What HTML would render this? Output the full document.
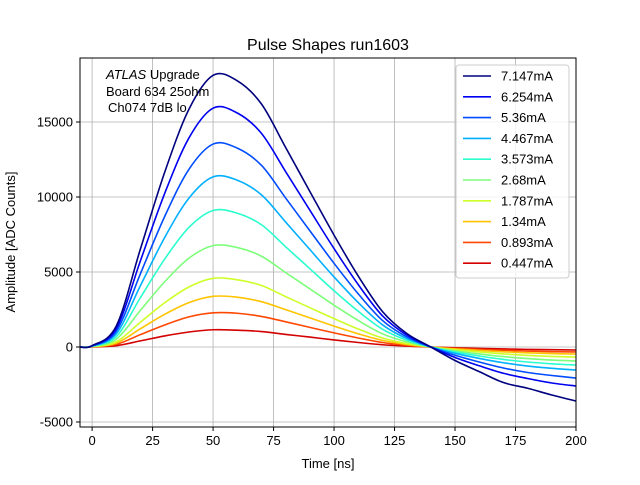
<!DOCTYPE html>
<html><head><meta charset="utf-8"><style>
body{margin:0;background:#fff}
svg text{font-family:"Liberation Sans",sans-serif;fill:#000}
</style></head><body>
<svg id="chart" width="640" height="480">
<rect width="640" height="480" fill="#fff"/>
<g id="grid"></g>
<g id="series"></g>
<rect x="80" y="58" width="496" height="369" fill="none" stroke="#000" stroke-width="1"/>
<g id="ticks"></g>
<text x="328" y="50" font-size="16" text-anchor="middle">Pulse Shapes run1603</text>
<text x="328" y="468" font-size="13" text-anchor="middle">Time [ns]</text>
<text transform="translate(15,242) rotate(-90)" font-size="13" text-anchor="middle">Amplitude [ADC Counts]</text>
<g font-size="13">
<text x="106" y="79"><tspan font-style="italic">ATLAS</tspan> Upgrade</text>
<text x="106" y="96"> Board 634 25ohm</text>
<text x="108" y="112">Ch074 7dB lo</text>
</g>
<g id="legend"></g>
</svg>
<script>
const times=[0,10,20,30,40,50,60,70,80,90,100,110,120,130,140,150,160,170,180,190,200];
const labels=["7.147mA","6.254mA","5.36mA","4.467mA","3.573mA","2.68mA","1.787mA","1.34mA","0.893mA","0.447mA"];
const colors=["#00007f","#0000f1","#004cff","#00b0ff","#29ffce","#7dff7a","#ceff29","#ffc400","#ff4700","#d40000"];
const s1=[90,1400,6550,11650,15840,18110,17750,16200,13300,10370,7460,4730,2370,910,0,-900,-1640,-2370,-2750,-3200,-3600];
const s2=[80,1230,5760,10240,13930,15920,15600,14240,11690,9120,6560,4160,2080,800,0,-700,-1250,-1750,-2100,-2400,-2600];
const s3=[70,1050,4900,8700,11840,13530,13260,12110,9930,7750,5580,3540,1770,680,0,-550,-1000,-1400,-1700,-1900,-2070];
const s4=[60,880,4100,7300,9920,11340,11120,10140,8330,6500,4670,2960,1480,570,0,-420,-760,-1050,-1270,-1420,-1530];
const s5=[50,700,3300,5860,7970,9100,8920,8150,6680,5220,3750,2380,1190,460,0,-330,-600,-830,-1000,-1120,-1200];
const s6=[35,520,2450,4350,5920,6760,6630,6050,4960,3880,2790,1770,880,340,0,-250,-460,-640,-770,-870,-930];
const s7=[25,350,1660,2950,4000,4580,4480,4100,3360,2620,1890,1200,600,230,0,-180,-330,-460,-560,-630,-670];
const s8=[17,260,1220,2180,2960,3380,3320,3020,2490,1940,1390,880,440,170,0,-130,-230,-320,-390,-440,-470];
const s9=[12,175,830,1470,2010,2280,2250,2040,1680,1310,940,600,300,115,0,-90,-160,-220,-270,-310,-330];
const s10=[6,88,410,740,1000,1150,1120,1030,840,660,470,300,150,58,0,-50,-95,-130,-160,-180,-200];
const seriesVals=[s1,s2,s3,s4,s5,s6,s7,s8,s9,s10];
const xTicks=[0,25,50,75,100,125,150,175,200];
const yTicks=[-5000,0,5000,10000,15000];
const NS='http://www.w3.org/2000/svg';
const X0=80,X1=576,Y0=58,Y1=427,xmin=-5,xmax=200,ymin=-5333,ymax=19267;
function xs(v){return X0+(v-xmin)/(xmax-xmin)*(X1-X0);}
function ys(v){return Y1-(v-ymin)/(ymax-ymin)*(Y1-Y0);}
function mk(t,a,p){const e=document.createElementNS(NS,t);for(const k in a)e.setAttribute(k,a[k]);p.appendChild(e);return e;}
const grid=document.getElementById('grid'),ticks=document.getElementById('ticks');
xTicks.forEach(v=>{const x=xs(v);
 const g=mk('line',{x1:x,x2:x,y1:Y0,y2:Y1,stroke:'#b0b0b0','stroke-width':0.8},grid);
 
 
 mk('line',{x1:x,x2:x,y1:Y1,y2:Y1+4,stroke:'#000'},ticks);
 const t=mk('text',{x:x,y:Y1+18,'font-size':13,'text-anchor':'middle'},ticks);t.textContent=v;
 
 });
yTicks.forEach(v=>{const y=ys(v);
 const g=mk('line',{x1:X0,x2:X1,y1:y,y2:y,stroke:'#b0b0b0','stroke-width':0.8},grid);
 
 
 mk('line',{x1:X0-4,x2:X0,y1:y,y2:y,stroke:'#000'},ticks);
 const t=mk('text',{x:X0-7,y:y+4.5,'font-size':13,'text-anchor':'end'},ticks);t.textContent=v;
 
 });
function smooth(pts){let d='M'+pts[0][0]+','+pts[0][1];
 for(let i=0;i<pts.length-1;i++){const p0=pts[Math.max(0,i-1)],p1=pts[i],p2=pts[i+1],p3=pts[Math.min(pts.length-1,i+2)];
 d+=' C'+(p1[0]+(p2[0]-p0[0])/6)+','+(p1[1]+(p2[1]-p0[1])/6)+' '+(p2[0]-(p3[0]-p1[0])/6)+','+(p2[1]-(p3[1]-p1[1])/6)+' '+p2[0]+','+p2[1];}
 return d;}
const sg=document.getElementById('series');
for(let k=seriesVals.length-1;k>=0;k--){
 const pts=times.map((t,i)=>[xs(t),ys(seriesVals[k][i])]);
 pts.unshift([X0,ys(0)]);
 const p=mk('path',{d:smooth(pts),fill:'none',stroke:colors[k],'stroke-width':1.6},sg);
 
 }
const lg=document.getElementById('legend');
const box=mk('rect',{x:456,y:65,width:113,height:213,rx:3,fill:'#fff',stroke:'#ccc','fill-opacity':0.8},lg);


labels.forEach((l,i)=>{const y=76+i*20.8;
 const ln=mk('line',{x1:463,x2:491,y1:y,y2:y,stroke:colors[i],'stroke-width':1.6},lg);
 
 
 const t=mk('text',{x:501,y:y+4.5,'font-size':13},lg);t.textContent=l;
 
 });
</script>
</body></html>
